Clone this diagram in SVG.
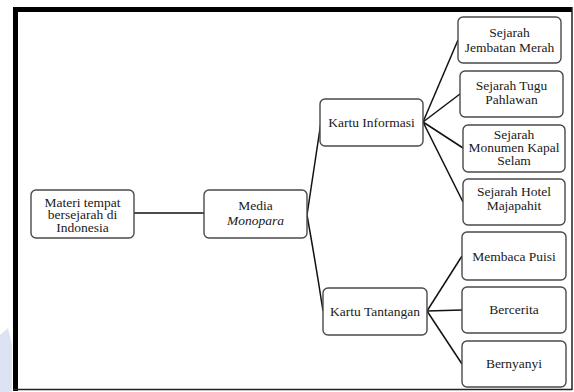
<svg xmlns="http://www.w3.org/2000/svg" width="574" height="392" viewBox="0 0 574 392">
<style>
.box{fill:#fff;stroke:#4a4a4a;stroke-width:1.4}
.t{font-family:"Liberation Serif","Times New Roman",serif;font-size:13.5px;fill:#1a1a1a;text-anchor:middle}
.c{fill:none;stroke:#111;stroke-width:1.5}
</style>
<rect width="574" height="392" fill="#fff"/>
<path d="M0,335 L8,328 L12,345 L12,392 L0,392 Z" fill="#dde3f2"/>
<g id="frame">
<rect x="13" y="7" width="5" height="384" fill="#000"/>
<rect x="13" y="7" width="559" height="5" fill="#000"/>
<line x1="572" y1="7" x2="572" y2="390" stroke="#222" stroke-width="1.5"/>
<line x1="13" y1="389.5" x2="572" y2="389.5" stroke="#222" stroke-width="1.5"/>
</g>
<g id="connectors">
<line class="c" x1="134" y1="213" x2="204" y2="213"/>
<path class="c" d="M307,215 L321,122"/>
<path class="c" d="M307,215 Q316,265 323,311"/>
<path class="c" d="M423,122 L458,40"/>
<path class="c" d="M423,122 L460,94"/>
<path class="c" d="M423,122 L463,148"/>
<path class="c" d="M423,122 L463,202"/>
<path class="c" d="M427,311 L462,256"/>
<path class="c" d="M427,311 L462,310"/>
<path class="c" d="M427,311 L462,364"/>
</g>
<g id="materi">
<rect class="box" x="31" y="190" width="103" height="48" rx="5"/>
<text class="t" x="82.5" y="206.5">Materi tempat</text>
<text class="t" x="82.5" y="219">bersejarah di</text>
<text class="t" x="82.5" y="231.5">Indonesia</text>
</g>
<g id="media">
<rect class="box" x="204" y="190" width="103" height="48" rx="5"/>
<text class="t" x="255.5" y="210">Media</text>
<text class="t" x="255.5" y="224.5" font-style="italic">Monopara</text>
</g>
<g id="kartu-informasi">
<rect class="box" x="320" y="99" width="103" height="47" rx="5"/>
<text class="t" x="371.5" y="127">Kartu Informasi</text>
</g>
<g id="kartu-tantangan">
<rect class="box" x="323" y="288" width="104" height="47" rx="5"/>
<text class="t" x="375" y="316">Kartu Tantangan</text>
</g>
<g id="jembatan-merah">
<rect class="box" x="458" y="17" width="103" height="46" rx="5"/>
<text class="t" x="509.5" y="37">Sejarah</text>
<text class="t" x="509.5" y="52">Jembatan Merah</text>
</g>
<g id="tugu-pahlawan">
<rect class="box" x="460" y="71" width="103" height="46" rx="5"/>
<text class="t" x="511.5" y="90">Sejarah Tugu</text>
<text class="t" x="511.5" y="104">Pahlawan</text>
</g>
<g id="monumen-kapal-selam">
<rect class="box" x="463" y="125" width="102" height="47" rx="5"/>
<text class="t" x="514" y="138.5">Sejarah</text>
<text class="t" x="514" y="151.5">Monumen Kapal</text>
<text class="t" x="514" y="164.5">Selam</text>
</g>
<g id="hotel-majapahit">
<rect class="box" x="463" y="179" width="102" height="46" rx="5"/>
<text class="t" x="514" y="196">Sejarah Hotel</text>
<text class="t" x="514" y="210">Majapahit</text>
</g>
<g id="membaca-puisi">
<rect class="box" x="462" y="232" width="104" height="48" rx="5"/>
<text class="t" x="514" y="260.5">Membaca Puisi</text>
</g>
<g id="bercerita">
<rect class="box" x="462" y="287" width="104" height="46" rx="5"/>
<text class="t" x="514" y="313.5">Bercerita</text>
</g>
<g id="bernyanyi">
<rect class="box" x="462" y="341" width="104" height="46" rx="5"/>
<text class="t" x="514" y="368">Bernyanyi</text>
</g>
</svg>
